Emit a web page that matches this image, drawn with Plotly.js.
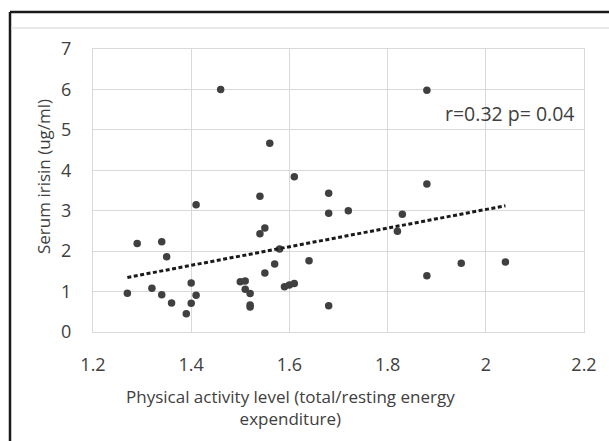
<!DOCTYPE html>
<html>
<head>
<meta charset="utf-8">
<script src="https://cdn.plot.ly/plotly-3.0.1.min.js"></script>
<style>html,body{margin:0;padding:0;background:#fff;}#chart{width:609px;height:441px;}</style>
</head>
<body>
<div id="chart"></div>
<script>
var activityLevel = [1.46, 1.56, 1.61, 1.88, 1.88,
  1.27, 1.29, 1.32, 1.34, 1.34, 1.35, 1.36, 1.39, 1.40, 1.40, 1.41, 1.41,
  1.50, 1.51, 1.51, 1.52, 1.52, 1.52, 1.54, 1.54, 1.55, 1.55, 1.57, 1.58,
  1.59, 1.60, 1.61, 1.64,
  1.68, 1.68, 1.72, 1.68, 1.83, 1.82, 1.88, 1.95, 2.04];
var serumIrisin = [6.0, 4.67, 3.84, 5.98, 3.66,
  0.96, 2.19, 1.08, 2.23, 0.92, 1.86, 0.72, 0.45, 1.21, 0.71, 3.15, 0.91,
  1.24, 1.26, 1.06, 0.95, 0.67, 0.62, 3.36, 2.43, 2.57, 1.46, 1.68, 2.05,
  1.12, 1.16, 1.20, 1.76,
  3.43, 2.94, 3.00, 0.65, 2.91, 2.49, 1.39, 1.70, 1.73];
var xTicks = [1.2, 1.4, 1.6, 1.8, 2, 2.2];
var yTicks = [0, 1, 2, 3, 4, 5, 6, 7];
var xTitle = 'Physical activity level (total/resting energy<br>expenditure)';
var yTitle = 'Serum irisin (ug/ml)';
var statsLabel = "r=0.32 p= 0.04";

// least-squares trendline
var n = activityLevel.length, sx = 0, sy = 0, sxx = 0, sxy = 0;
for (var i = 0; i < n; i++) { sx += activityLevel[i]; sy += serumIrisin[i]; sxx += activityLevel[i]*activityLevel[i]; sxy += activityLevel[i]*serumIrisin[i]; }
var slope = (n*sxy - sx*sy) / (n*sxx - sx*sx);
var intercept = (sy - slope*sx) / n;
var xMin = Math.min.apply(null, activityLevel), xMax = Math.max.apply(null, activityLevel);
var trendX = [xMin, xMax];
var trendY = trendX.map(function (v) { return intercept + slope*v; });

var W = 609, H = 441, L = 93, R = 25, T = 49, B = 109;
var pw = W - L - R, ph = H - T - B;
function px(x) { return (x - L) / pw; }
function py(y) { return (H - B - y) / ph; }

var font = '"Open Sans", Lato, sans-serif';
var dark = '#404040';

var data = [
  { x: activityLevel, y: serumIrisin, type: 'scatter', mode: 'markers',
    marker: { color: '#404040', size: 7.5 }, hoverinfo: 'x+y' },
  { x: trendX, y: trendY, type: 'scatter', mode: 'lines',
    line: { color: '#1a1a1a', width: 3, dash: '4px,2.5px' }, hoverinfo: 'skip' }
];

var layout = {
  width: W, height: H,
  margin: { l: L, r: R, t: T, b: B, pad: 0 },
  paper_bgcolor: '#fff', plot_bgcolor: '#fff',
  showlegend: false,
  font: { family: font, color: dark, size: 17 },
  xaxis: {
    range: [1.2, 2.2], tickvals: xTicks, ticktext: xTicks.map(String),
    showgrid: true, gridcolor: '#d9d9d9', gridwidth: 1,
    showline: true, linecolor: '#d9d9d9', linewidth: 1, mirror: true,
    zeroline: false, ticks: 'outside', ticklen: 16, tickcolor: 'rgba(0,0,0,0)',
    tickfont: { family: font, size: 18, color: dark }
  },
  yaxis: {
    range: [0, 7], tickvals: yTicks, ticktext: yTicks.map(String),
    showgrid: true, gridcolor: '#d9d9d9', gridwidth: 1,
    showline: true, linecolor: '#d9d9d9', linewidth: 1, mirror: true,
    zeroline: false, ticks: 'outside', ticklen: 17, tickcolor: 'rgba(0,0,0,0)',
    tickfont: { family: font, size: 18, color: dark }
  },
  annotations: [
    { text: yTitle, xref: 'paper', yref: 'paper',
      x: px(43), y: py(177), textangle: -90, showarrow: false,
      font: { family: font, size: 17, color: dark }, xanchor: 'center', yanchor: 'middle' },
    { text: xTitle, xref: 'paper', yref: 'paper',
      x: px(290), y: py(407), showarrow: false,
      font: { family: font, size: 17, color: dark }, xanchor: 'center', yanchor: 'middle' },
    { text: statsLabel, xref: 'paper', yref: 'paper',
      x: px(509), y: py(114), showarrow: false,
      font: { family: font, size: 19.5, color: dark }, xanchor: 'center', yanchor: 'middle' }
  ],
  shapes: [
    { type: 'line', xref: 'paper', yref: 'paper', x0: px(10), x1: px(W + 5), y0: py(12), y1: py(12),
      line: { color: '#1a1a1a', width: 2.5 } },
    { type: 'line', xref: 'paper', yref: 'paper', x0: px(10), x1: px(10), y0: py(12), y1: py(H + 5),
      line: { color: '#1a1a1a', width: 2.5 } },
    { type: 'line', xref: 'paper', yref: 'paper', x0: px(11), x1: px(W + 5), y0: py(28), y1: py(28),
      line: { color: '#e0e0e0', width: 1.5 } }
  ]
};

Plotly.newPlot('chart', data, layout, { displayModeBar: false, staticPlot: true });
</script>
</body>
</html>
